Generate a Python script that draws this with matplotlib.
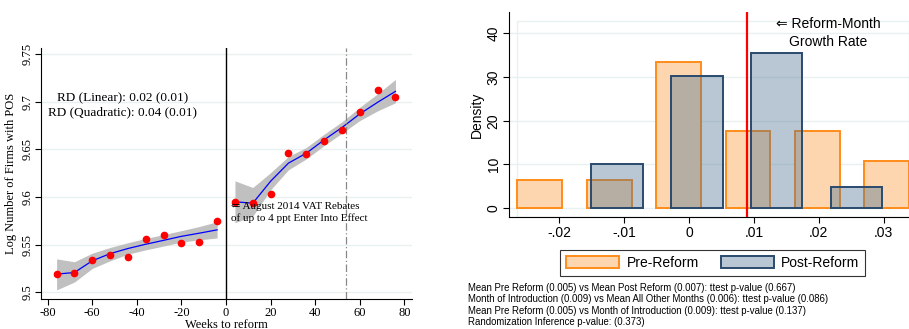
import numpy as np
import matplotlib
matplotlib.use("Agg")
import matplotlib.pyplot as plt
from matplotlib.patches import Rectangle

plt.rcParams["axes.unicode_minus"] = False

SERIF = ["Liberation Serif", "DejaVu Serif"]
SANS = ["Liberation Sans", "DejaVu Sans"]

# ---- left panel data (weekly bins, log number of firms with POS) ----
weeks_pre = [-76, -68, -60, -52, -44, -36, -28, -20, -12, -4]
mean_pre = [9.519, 9.520, 9.534, 9.539, 9.537, 9.5556, 9.560, 9.552, 9.553, 9.575]
fit_pre = [9.519, 9.5207, 9.533, 9.5405, 9.5459, 9.5504, 9.5545, 9.5587, 9.562, 9.5655]
ci_lo_pre = [9.5024, 9.5107, 9.525, 9.533, 9.540, 9.5445, 9.5485, 9.5527, 9.555, 9.557]
ci_hi_pre = [9.535, 9.532, 9.541, 9.547, 9.552, 9.5565, 9.5605, 9.5647, 9.569, 9.574]

weeks_post = [4, 12, 20, 28, 36, 44, 52, 60, 68, 76]
mean_post = [9.595, 9.594, 9.603, 9.646, 9.645, 9.659, 9.670, 9.689, 9.7125, 9.7046]
fit_post = [9.595, 9.5935, 9.6166, 9.6356, 9.646, 9.660, 9.673, 9.6873, 9.6995, 9.711]
ci_lo_post = [9.573, 9.580, 9.6076, 9.6286, 9.640, 9.654, 9.667, 9.6803, 9.6905, 9.699]
ci_hi_post = [9.617, 9.610, 9.6256, 9.6426, 9.652, 9.666, 9.679, 9.6943, 9.7085, 9.7235]

# ---- right panel data (monthly growth rate histograms, density) ----
pre_centers = [-0.02295, -0.01225, -0.00154, 0.00911, 0.01979, 0.0304]
pre_density = [6.47, 6.47, 33.3, 17.67, 17.67, 10.9]
pre_width = 0.0069

post_centers = [-0.01108, 0.00123, 0.01348, 0.02581]
post_density = [10.06, 30.3, 35.4, 4.94]
post_width = 0.0079

reform_month = 0.009

notes = [
    "Mean Pre Reform (0.005) vs Mean Post Reform (0.007): ttest p-value (0.667)",
    "Month of Introduction (0.009) vs Mean All Other Months (0.006): ttest p-value (0.086)",
    "Mean Pre Reform (0.005) vs Month of Introduction (0.009): ttest p-value (0.137)",
    "Randomization Inference p-value: (0.373)",
]

grid_col = "#e8f0f2"

fig = plt.figure(figsize=(9.09, 3.29), dpi=100)

# ================= left panel =================
ax1 = fig.add_axes([0.0451, 0.091, 0.4081, 0.763])
for y in [9.5, 9.55, 9.6, 9.65, 9.7, 9.75]:
    ax1.axhline(y, color=grid_col, lw=1, zorder=0)
ax1.fill_between(weeks_pre, ci_lo_pre, ci_hi_pre, color="#c0c0c0", lw=0, zorder=1)
ax1.fill_between(weeks_post, ci_lo_post, ci_hi_post, color="#c0c0c0", lw=0, zorder=1)
ax1.plot(weeks_pre, fit_pre, color="blue", lw=0.9, zorder=2)
ax1.plot(weeks_post, fit_post, color="blue", lw=0.9, zorder=2)
ax1.plot(weeks_pre, mean_pre, "o", color="red", ms=4.5, zorder=3)
ax1.plot(weeks_post, mean_post, "o", color="red", ms=4.5, zorder=3)
ax1.axvline(0, color="black", lw=1, zorder=2)
ax1.axvline(54, color="#888888", lw=0.9, ls=(0, (6, 2, 1, 2)), zorder=2)

ax1.set_xlim(-83, 83.4)
ax1.set_ylim(9.4928, 9.7565)
ax1.set_xticks(range(-80, 81, 20))
ax1.set_yticks([9.5, 9.55, 9.6, 9.65, 9.7, 9.75])
ax1.set_yticklabels(["9.5", "9.55", "9.6", "9.65", "9.7", "9.75"], rotation=90, va="center")
for lab in ax1.get_xticklabels() + ax1.get_yticklabels():
    lab.set_family(SERIF)
    lab.set_fontsize(9)
ax1.tick_params(length=4, width=0.8, pad=1.5)
ax1.spines["top"].set_visible(False)
ax1.spines["right"].set_visible(False)
ax1.set_xlabel("Weeks to reform", family=SERIF, fontsize=9, labelpad=0)
ax1.set_ylabel("Log Number of Firms with POS", family=SERIF, fontsize=9, labelpad=3)

ax1.text(-46.5, 9.7035, "RD (Linear): 0.02 (0.01)", family=SERIF, fontsize=9.5,
         ha="center", va="center")
ax1.text(-46.5, 9.6895, "RD (Quadratic): 0.04 (0.01)", family=SERIF, fontsize=9.5,
         ha="center", va="center")
ax1.text(2.2, 9.590, "\u21d0 August 2014 VAT Rebates", family=SERIF, fontsize=8,
         ha="left", va="center")
ax1.text(2.2, 9.578, "of up to 4 ppt Enter Into Effect", family=SERIF, fontsize=8,
         ha="left", va="center")

# ================= right panel =================
ax2 = fig.add_axes([0.560, 0.3395, 0.44, 0.625])
for y in [0, 10, 20, 30, 40]:
    ax2.axhline(y, color=grid_col, lw=1, zorder=0)
ax2.add_patch(Rectangle((0.02, 0.0), 0.98, 0.956, transform=ax2.transAxes,
                        fill=False, ec=grid_col, lw=1, zorder=0))
ax2.bar(pre_centers, pre_density, width=pre_width, color="#fdd6b0",
        edgecolor="#ff8c1a", lw=1.4, zorder=2, label="Pre-Reform")
ax2.bar(post_centers, post_density, width=post_width, color=(0.31, 0.45, 0.57, 0.4),
        edgecolor="#2a4a6e", lw=1.4, zorder=3, label="Post-Reform")
ax2.axvline(reform_month, color="red", lw=1.6, zorder=4)
ax2.text(0.0215, 42.1, "\u21d0 Reform-Month", family=SANS, fontsize=10,
         ha="center", va="center")
ax2.text(0.0215, 37.9, "Growth Rate", family=SANS, fontsize=10,
         ha="center", va="center")

ax2.set_xlim(-0.0277, 0.0339)
ax2.set_ylim(-2.06, 44.9)
ax2.set_xticks([-0.02, -0.01, 0, 0.01, 0.02, 0.03])
ax2.set_xticklabels(["-.02", "-.01", "0", ".01", ".02", ".03"])
ax2.set_yticks([0, 10, 20, 30, 40])
ax2.set_yticklabels(["0", "10", "20", "30", "40"], rotation=90, va="center")
for lab in ax2.get_xticklabels() + ax2.get_yticklabels():
    lab.set_family(SANS)
    lab.set_fontsize(10)
ax2.tick_params(length=4, width=0.8, pad=2)
ax2.spines["top"].set_visible(False)
ax2.spines["right"].set_visible(False)
ax2.set_ylabel("Density", family=SANS, fontsize=10, labelpad=2)

leg = fig.legend(loc="center", bbox_to_anchor=(712.8 / 909, 1 - 263 / 329), ncol=2,
                 prop={"family": SANS, "size": 10}, frameon=True, fancybox=False,
                 edgecolor="black", handlelength=3.8, handleheight=1.0,
                 columnspacing=1.6, borderpad=0.4, handletextpad=0.55,
                 borderaxespad=0)
leg.get_frame().set_linewidth(0.8)

for i, line in enumerate(notes):
    fig.text(468 / 909, 1 - (287.7 + i * 11.5) / 329, line, family=SANS,
             fontsize=6.9, ha="left", va="center")

fig.savefig("out.png", dpi=100)
